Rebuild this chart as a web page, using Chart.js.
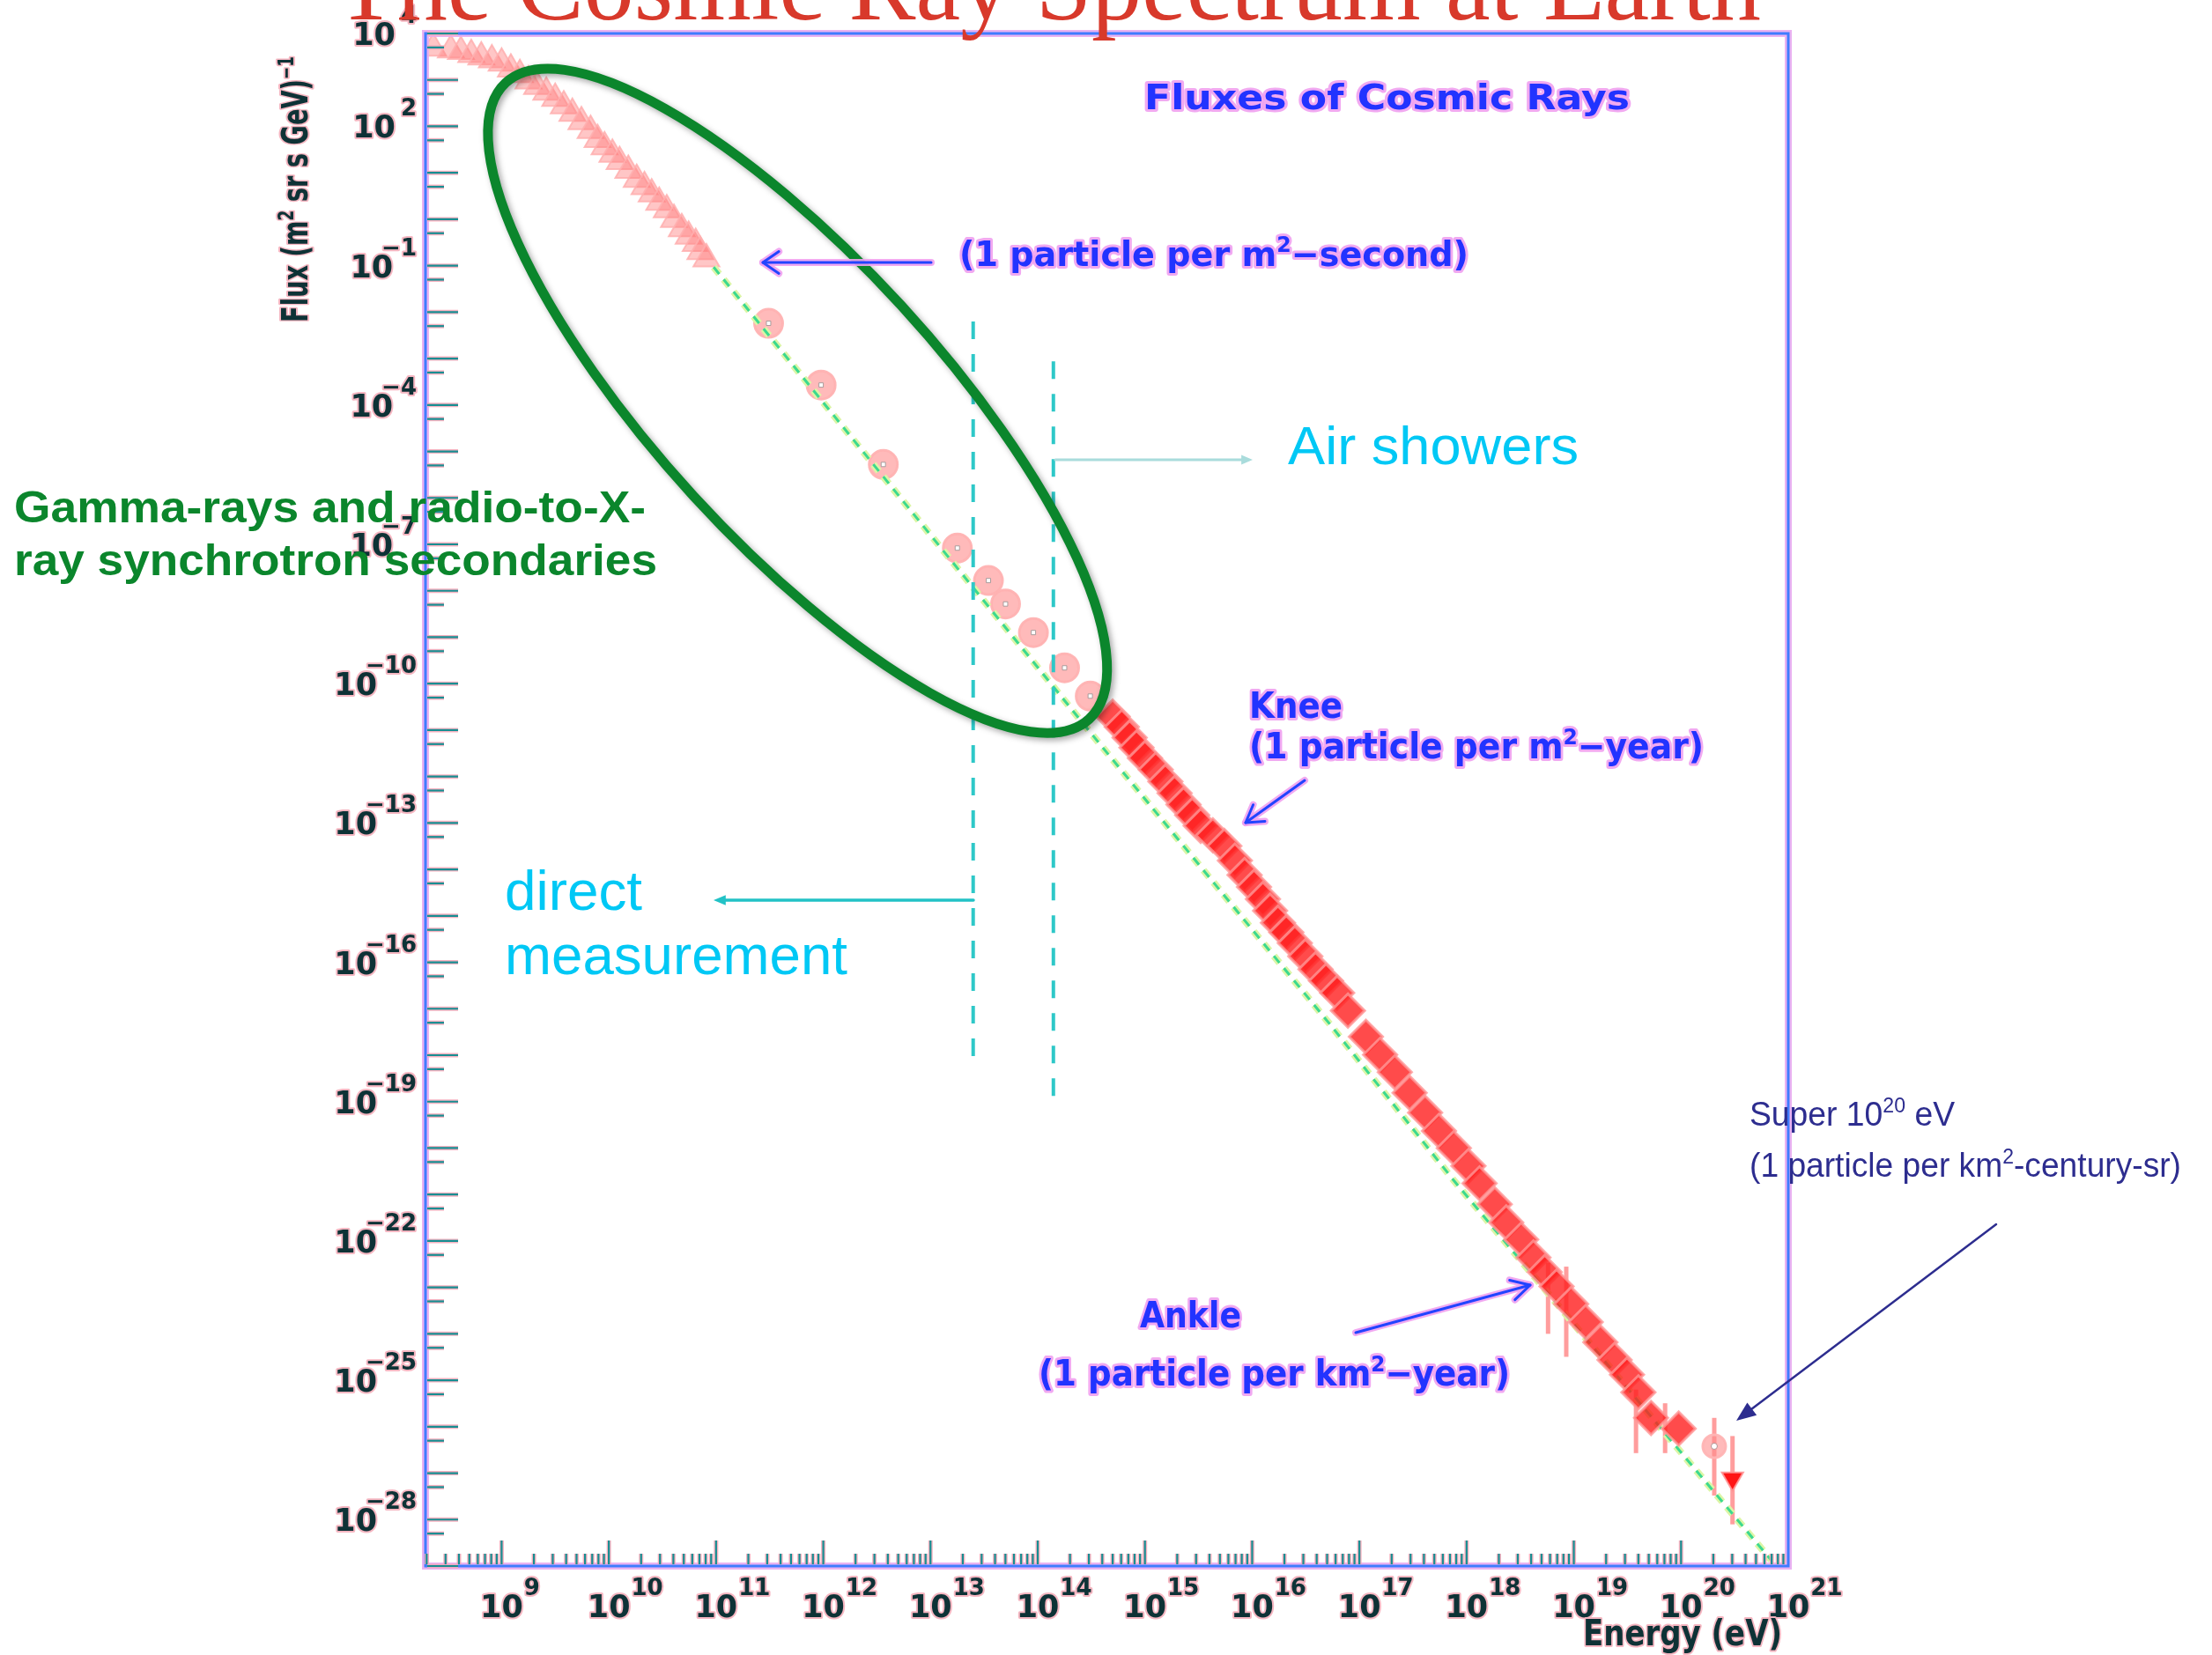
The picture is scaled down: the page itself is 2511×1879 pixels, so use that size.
<!DOCTYPE html>
<html><head><meta charset="utf-8">
<script src="https://cdn.jsdelivr.net/npm/chart.js@4/dist/chart.umd.min.js"></script>
<style>html,body{margin:0;padding:0;background:#fff;overflow:hidden}canvas{display:block}</style>
</head><body>
<canvas id="c" width="2511" height="1879"></canvas>
<script>
// ---------------- data ----------------
const lowEnergy = [2.3e8, 3.36e8, 4.17e8, 5.21e8, 6.46e8, 8.11e8, 1.0e9, 1.22e9, 1.48e9, 1.78e9, 2.14e9, 2.61e9, 3.16e9, 3.80e9, 4.57e9, 5.55e9, 6.76e9, 7.85e9, 9.12e9, 1.08e10, 1.26e10, 1.52e10, 1.82e10, 2.15e10, 2.51e10, 2.95e10, 3.47e10, 4.05e10, 4.79e10, 5.55e10, 6.46e10, 7.14e10, 8.13e10];
const lowFlux   = [4.8e3, 4.4e3, 4.1e3, 3.5e3, 3.1e3, 2.7e3, 2.3e3, 1.7e3, 1.3e3, 9.5e2, 7.2e2, 5.4e2, 4.0e2, 2.75e2, 1.9e2, 1.26e2, 81, 52, 36, 25, 17.4, 11.2, 7.2, 5.0, 3.5, 2.3, 1.6, 0.99, 0.62, 0.43, 0.30, 0.20, 0.14];

const directEnergy = [3.09e11, 9.55e11, 3.63e12, 1.78e13, 3.47e13, 5.01e13, 9.12e13, 1.78e14, 3.09e14];
const directFlux   = [5.75e-3, 2.69e-4, 5.25e-6, 8.3e-8, 1.66e-8, 5.2e-9, 1.26e-9, 2.19e-10, 5.4e-11];

const showerEnergy = [5.0e14, 6.08e14, 7.2e14, 8.34e14, 1.0e15, 1.26e15, 1.55e15, 1.89e15, 2.29e15, 2.76e15, 3.31e15, 4.30e15, 5.5e15, 6.90e15, 8.5e15, 1.04e16, 1.26e16, 1.47e16, 1.74e16, 2.08e16, 2.5e16, 3.13e16, 3.9e16, 4.88e16, 6.2e16, 7.82e16, 1.15e17, 1.56e17, 2.14e17, 2.94e17, 4.1e17, 5.52e17, 7.6e17, 1.04e18, 1.32e18, 1.83e18, 2.34e18, 3.23e18, 4.2e18, 5.35e18, 6.9e18, 9.44e18, 1.29e19, 1.77e19, 2.4e19, 3.13e19, 4.0e19, 5.25e19, 9.5e19];
const showerFlux   = [1.95e-11, 1.17e-11, 6.9e-12, 4.2e-12, 2.5e-12, 1.41e-12, 7.8e-13, 4.4e-13, 2.5e-13, 1.48e-13, 8.7e-14, 5.4e-14, 3.2e-14, 1.55e-14, 7.6e-15, 4.2e-15, 2.3e-15, 1.29e-15, 7.1e-16, 4.4e-16, 2.6e-16, 1.35e-16, 7.1e-17, 4.0e-17, 2.2e-17, 9.1e-18, 2.5e-18, 1.02e-18, 4.3e-19, 1.55e-19, 5.8e-20, 2.34e-20, 1.0e-20, 4.1e-21, 1.74e-21, 6.2e-22, 2.5e-22, 1.07e-22, 4.4e-23, 2.14e-23, 1.05e-23, 4.4e-24, 1.8e-24, 6.6e-25, 2.75e-25, 1.32e-25, 5.5e-26, 1.55e-26, 9.1e-27];

const uheEnergy = [2.04e20];
const uheFlux   = [3.8e-27];
const limitEnergy = [3.02e20];
const limitFlux   = [7.6e-28];

const errEnergy = [5.75e18, 8.5e18, 3.8e19, 7.1e19, 2.04e20, 3.02e20];
const errLow    = [1.0e-24, 3.2e-25, 2.7e-27, 2.7e-27, 3.3e-28, 7.9e-29];
const errHigh   = [3.4e-23, 2.8e-23, 6.3e-26, 3.2e-26, 1.55e-26, 6.3e-27];

const refEnergy = [9.5e10, 3.39e14, 5.37e16, 7.6e17, 6.9e20];
const refFlux   = [9.3e-2, 6.9e-12, 4.5e-18, 2.0e-21, 1.35e-29];

const boundaryEnergy = [2.5e13, 1.4e14];
const boundaryTop    = [6.3e-3, 8.7e-4];
const boundaryBottom = [7.2e-19, 1.05e-19];

const xTickValues = [1e9, 1e10, 1e11, 1e12, 1e13, 1e14, 1e15, 1e16, 1e17, 1e18, 1e19, 1e20, 1e21];
const xTickExps   = ['9','10','11','12','13','14','15','16','17','18','19','20','21'];
const yTickValues = [1e4, 1e2, 1e-1, 1e-4, 1e-7, 1e-10, 1e-13, 1e-16, 1e-19, 1e-22, 1e-25, 1e-28];
const yTickExps   = ['4','2','\u22121','\u22124','\u22127','\u221210','\u221213','\u221216','\u221219','\u221222','\u221225','\u221228'];

const X_MIN = 1.95e8, X_MAX = 1e21, Y_MIN = 1e-29, Y_MAX = 1e4;

// ---------------- helpers ----------------
const pts = (xs, ys) => xs.map((v, i) => ({ x: v, y: ys[i] }));
function seg(ctx, x1, y1, x2, y2) { ctx.beginPath(); ctx.moveTo(x1, y1); ctx.lineTo(x2, y2); ctx.stroke(); }

function arrow(ctx, x1, y1, x2, y2, o) {
  const ang = Math.atan2(y2 - y1, x2 - x1);
  const hl = o.head, hw = o.spread || 0.45;
  const draw = (col, lw) => {
    ctx.strokeStyle = col; ctx.fillStyle = col; ctx.lineWidth = lw;
    const back = o.filled ? hl * 0.7 : 0;
    seg(ctx, x1, y1, x2 - Math.cos(ang) * back, y2 - Math.sin(ang) * back);
    const ax = x2 - hl * Math.cos(ang - hw), ay = y2 - hl * Math.sin(ang - hw);
    const bx = x2 - hl * Math.cos(ang + hw), by = y2 - hl * Math.sin(ang + hw);
    ctx.beginPath(); ctx.moveTo(ax, ay); ctx.lineTo(x2, y2); ctx.lineTo(bx, by);
    if (o.filled) { ctx.closePath(); ctx.fill(); } else ctx.stroke();
  };
  ctx.save(); ctx.lineCap = 'round'; ctx.lineJoin = 'round';
  if (o.halo) draw(o.halo, o.width + 5);
  draw(o.color, o.width);
  ctx.restore();
}

function rich(ctx, segs, x, y, o) {
  ctx.save();
  const sup = o.supScale || 0.62;
  const font = s => `${o.weight || 'normal'} ${s}px ${o.family}`;
  let total = 0;
  const widths = segs.map(s => { ctx.font = font(s.sup ? o.size * sup : o.size); const w = ctx.measureText(s.t).width; total += w; return w; });
  const sx = o.width ? o.width / total : 1;
  ctx.translate(x, y);
  if (o.rotate) ctx.rotate(o.rotate);
  ctx.scale(sx, 1);
  let cx = o.align === 'center' ? -total / 2 : (o.align === 'right' ? -total : 0);
  ctx.textBaseline = 'alphabetic'; ctx.textAlign = 'left'; ctx.lineJoin = 'round';
  if (o.halo) {
    let hx = cx;
    segs.forEach((s, i) => {
      ctx.font = font(s.sup ? o.size * sup : o.size);
      ctx.strokeStyle = o.halo; ctx.lineWidth = o.haloW || 5;
      ctx.strokeText(s.t, hx, s.sup ? -o.size * 0.4 : 0); hx += widths[i];
    });
  }
  segs.forEach((s, i) => {
    ctx.font = font(s.sup ? o.size * sup : o.size);
    ctx.fillStyle = o.color; ctx.fillText(s.t, cx, s.sup ? -o.size * 0.4 : 0); cx += widths[i];
  });
  ctx.restore();
}

const LBL = { base: 'bold 35px "DejaVu Sans"', exp: 'bold 26px "DejaVu Sans"', color: '#0e3236', halo: 'rgba(244,178,190,0.95)' };
function txt(ctx, t, x, y, font) {
  ctx.font = font; ctx.lineJoin = 'round';
  ctx.strokeStyle = LBL.halo; ctx.lineWidth = 4; ctx.strokeText(t, x, y);
  ctx.fillStyle = LBL.color; ctx.fillText(t, x, y);
}

// ---------------- plugin: frame, ticks, labels, annotations ----------------
const cosmicOverlay = {
  id: 'cosmicOverlay',
  beforeDatasetsDraw(chart) {
    const { ctx, scales: { x, y } } = chart;
    ctx.save();
    ctx.strokeStyle = 'rgba(255,140,140,0.85)'; ctx.lineWidth = 5; ctx.lineCap = 'butt';
    errEnergy.forEach((e, i) => {
      const px = x.getPixelForValue(e);
      seg(ctx, px, y.getPixelForValue(errLow[i]), px, y.getPixelForValue(errHigh[i]));
    });
    ctx.restore();
  },
  afterDraw(chart) {
    const { ctx, chartArea: a, scales: { x, y } } = chart;
    ctx.save();

    // frame
    ctx.strokeStyle = 'rgba(232,170,240,0.9)'; ctx.lineWidth = 8;
    ctx.strokeRect(a.left, a.top, a.right - a.left, a.bottom - a.top);
    ctx.strokeStyle = '#3f7cff'; ctx.lineWidth = 3;
    ctx.strokeRect(a.left, a.top, a.right - a.left, a.bottom - a.top);

    // ticks
    const tick = (x1, y1, x2, y2) => {
      ctx.strokeStyle = 'rgba(245,170,185,0.9)'; ctx.lineWidth = 5; seg(ctx, x1, y1, x2, y2);
      ctx.strokeStyle = '#178e92'; ctx.lineWidth = 2.2; seg(ctx, x1, y1, x2, y2);
    };
    for (let n = -29; n <= 4; n++) { const py = y.getPixelForValue(Math.pow(10, n)); tick(a.left + 2, py, a.left + 37, py); }
    for (let n = -30; n <= 3; n++) { const v = 5 * Math.pow(10, n); if (v > Y_MIN && v < Y_MAX) { const py = y.getPixelForValue(v); tick(a.left + 2, py, a.left + 21, py); } }
    for (let n = 8; n <= 20; n++) for (let k = 1; k <= 9; k++) {
      const v = k * Math.pow(10, n);
      if (v <= X_MIN || v > X_MAX) continue;
      const px = x.getPixelForValue(v);
      tick(px, a.bottom - 2, px, a.bottom - (k === 1 ? 29 : 14));
    }

    // tick labels
    ctx.textBaseline = 'alphabetic'; ctx.textAlign = 'left';
    xTickValues.forEach((v, i) => {
      const px = x.getPixelForValue(v);
      ctx.font = LBL.base; const w10 = ctx.measureText('10').width;
      txt(ctx, '10', px - w10 / 2, 1836, LBL.base);
      txt(ctx, xTickExps[i], px + w10 / 2 + 1, 1811, LBL.exp);
    });
    yTickValues.forEach((v, i) => {
      const py = y.getPixelForValue(v);
      const e = yTickExps[i];
      ctx.font = LBL.exp; const we = ctx.measureText(e).width;
      ctx.font = LBL.base; const w10 = ctx.measureText('10').width;
      const expLeft = 473 - we;
      const tenRight = expLeft + (e.startsWith('\u2212') ? 13 : -6);
      txt(ctx, '10', tenRight - w10, py + 13, LBL.base);
      txt(ctx, e, expLeft, py - 12, LBL.exp);
    });

    // axis titles
    rich(ctx, [{ t: 'Flux (m' }, { t: '2', sup: true }, { t: ' sr s GeV)' }, { t: '\u22121', sup: true }], 349, 215,
      { size: 40, family: '"DejaVu Sans"', weight: 'bold', color: LBL.color, halo: LBL.halo, haloW: 4, width: 302, align: 'center', rotate: -Math.PI / 2 });
    rich(ctx, [{ t: 'Energy (eV)' }], 1797, 1868,
      { size: 40, family: '"DejaVu Sans"', weight: 'bold', color: LBL.color, halo: LBL.halo, haloW: 4, width: 226 });

    // title (cut at the top of the page)
    ctx.font = '114px "Liberation Serif"'; ctx.fillStyle = '#d8392b';
    ctx.fillText('The Cosmic Ray Spectrum at Earth', 381, 22);

    // green ellipse
    const ecx = x.getPixelForValue(5.75e11), ecy = y.getPixelForValue(1.23e-4);
    ctx.save();
    ctx.shadowColor = 'rgba(0,0,0,0.35)'; ctx.shadowBlur = 7; ctx.shadowOffsetX = 3; ctx.shadowOffsetY = 3;
    ctx.strokeStyle = '#0b862c'; ctx.lineWidth = 11;
    ctx.beginPath(); ctx.ellipse(ecx, ecy, 490, 160, 47.5 * Math.PI / 180, 0, Math.PI * 2); ctx.stroke();
    ctx.restore();

    // blue plot annotations
    const blue = { family: '"DejaVu Sans"', weight: 'bold', color: '#2233ff', halo: 'rgba(240,160,240,0.9)', haloW: 6 };
    rich(ctx, [{ t: 'Fluxes of Cosmic Rays' }], 1299, 124, { ...blue, size: 39, width: 551 });
    rich(ctx, [{ t: '(1 particle per m' }, { t: '2', sup: true }, { t: '\u2212second)' }], 1089, 302, { ...blue, size: 39, width: 578 });
    arrow(ctx, 1057, 298, 866, 298, { color: '#2244ff', halo: 'rgba(240,160,240,0.9)', width: 3, head: 22, spread: 0.6 });
    rich(ctx, [{ t: 'Knee' }], 1418, 815, { ...blue, size: 41, width: 106 });
    rich(ctx, [{ t: '(1 particle per m' }, { t: '2', sup: true }, { t: '\u2212year)' }], 1418, 861, { ...blue, size: 41, width: 516 });
    arrow(ctx, 1481, 886, 1414, 934, { color: '#2244ff', halo: 'rgba(240,160,240,0.9)', width: 3, head: 22, spread: 0.55 });
    rich(ctx, [{ t: 'Ankle' }], 1294, 1507, { ...blue, size: 41, width: 115 });
    rich(ctx, [{ t: '(1 particle per km' }, { t: '2', sup: true }, { t: '\u2212year)' }], 1179, 1573, { ...blue, size: 41, width: 535 });
    arrow(ctx, 1539, 1513, 1737, 1459, { color: '#2244ff', halo: 'rgba(240,160,240,0.9)', width: 3, head: 24, spread: 0.5 });

    // cyan annotations
    rich(ctx, [{ t: 'Air showers' }], 1462, 527, { size: 62, family: '"Liberation Sans"', color: '#00c8f5', width: 330 });
    arrow(ctx, 1198, 522, 1422, 522, { color: '#a9dcdc', width: 3, head: 14, filled: true, spread: 0.4 });
    rich(ctx, [{ t: 'direct' }], 573, 1033, { size: 63, family: '"Liberation Sans"', color: '#00c8f5', width: 156 });
    rich(ctx, [{ t: 'measurement' }], 573, 1106, { size: 63, family: '"Liberation Sans"', color: '#00c8f5', width: 389 });
    arrow(ctx, 1105, 1022, 810, 1022, { color: '#22c2c6', width: 3.5, head: 15, filled: true, spread: 0.4 });

    // green text
    rich(ctx, [{ t: 'Gamma-rays and radio-to-X-' }], 16, 593, { size: 50, family: '"Liberation Sans"', weight: 'bold', color: '#0b862c', width: 717 });
    rich(ctx, [{ t: 'ray synchrotron secondaries' }], 16, 653, { size: 50, family: '"Liberation Sans"', weight: 'bold', color: '#0b862c', width: 730 });

    // super GZK annotation
    rich(ctx, [{ t: 'Super 10' }, { t: '20', sup: true }, { t: ' eV' }], 1986, 1278, { size: 38, family: '"Liberation Sans"', color: '#2d2d8f', width: 233 });
    rich(ctx, [{ t: '(1 particle per km' }, { t: '2', sup: true }, { t: '-century-sr)' }], 1986, 1336, { size: 38, family: '"Liberation Sans"', color: '#2d2d8f', width: 490 });
    arrow(ctx, 2266, 1390, 1971, 1613, { color: '#2d2d8f', width: 2.5, head: 24, filled: true, spread: 0.38 });

    ctx.restore();
  }
};

// ---------------- chart ----------------
new Chart(document.getElementById('c'), {
  type: 'scatter',
  data: {
    datasets: [
      { label: 'boundary direct', data: [{ x: boundaryEnergy[0], y: boundaryTop[0] }, { x: boundaryEnergy[0], y: boundaryBottom[0] }],
        showLine: true, borderColor: '#2ec8c8', borderWidth: 4, borderDash: [20, 17], pointRadius: 0 },
      { label: 'boundary showers', data: [{ x: boundaryEnergy[1], y: boundaryTop[1] }, { x: boundaryEnergy[1], y: boundaryBottom[1] }],
        showLine: true, borderColor: '#2ec8c8', borderWidth: 4, borderDash: [20, 17], pointRadius: 0 },
      { label: 'limit', data: pts(limitEnergy, limitFlux), pointStyle: 'triangle', rotation: 180, pointRadius: 14,
        backgroundColor: '#ff1414', borderColor: 'rgba(255,150,150,0.9)', borderWidth: 2 },
      { label: 'uhe centre', data: pts(uheEnergy, uheFlux), pointStyle: 'circle', pointRadius: 3.5, backgroundColor: '#fff', borderColor: 'rgba(170,140,140,0.9)', borderWidth: 1 },
      { label: 'uhe', data: pts(uheEnergy, uheFlux), pointStyle: 'circle', pointRadius: 13,
        backgroundColor: 'rgba(255,140,140,0.6)', borderColor: 'rgba(255,180,180,0.95)', borderWidth: 3 },
      { label: 'air showers', data: pts(showerEnergy, showerFlux), pointStyle: 'rectRot', pointRadius: 19,
        backgroundColor: 'rgba(255,30,30,0.8)', borderColor: 'rgba(255,150,150,0.8)', borderWidth: 3 },
      { label: 'power law core', data: pts(refEnergy, refFlux), showLine: true, borderColor: '#3bd98f', borderWidth: 3, borderDash: [10, 8], pointRadius: 0 },
      { label: 'power law', data: pts(refEnergy, refFlux), showLine: true, borderColor: '#dcf5a6', borderWidth: 8, borderDash: [10, 8], pointRadius: 0 },
      { label: 'direct centres', data: pts(directEnergy, directFlux), pointStyle: 'rect', pointRadius: 3.5,
        backgroundColor: '#ffffff', borderColor: 'rgba(160,150,150,0.9)', borderWidth: 1 },
      { label: 'direct', data: pts(directEnergy, directFlux), pointStyle: 'circle', pointRadius: 16,
        backgroundColor: 'rgba(255,130,130,0.55)', borderColor: 'rgba(255,178,178,0.95)', borderWidth: 3 },
      { label: 'low energy', data: pts(lowEnergy, lowFlux), pointStyle: 'triangle', pointRadius: 17,
        backgroundColor: 'rgba(255,120,120,0.42)', borderColor: 'rgba(255,175,175,0.85)', borderWidth: 2 }
    ]
  },
  options: {
    responsive: false, animation: false, devicePixelRatio: 1,
    layout: { padding: { left: 483, top: 38, right: 481, bottom: 101 } },
    scales: {
      x: { type: 'logarithmic', min: X_MIN, max: X_MAX, display: false },
      y: { type: 'logarithmic', min: Y_MIN, max: Y_MAX, display: false }
    },
    plugins: { legend: { display: false }, tooltip: { enabled: false } }
  },
  plugins: [cosmicOverlay]
});
</script>
</body></html>
